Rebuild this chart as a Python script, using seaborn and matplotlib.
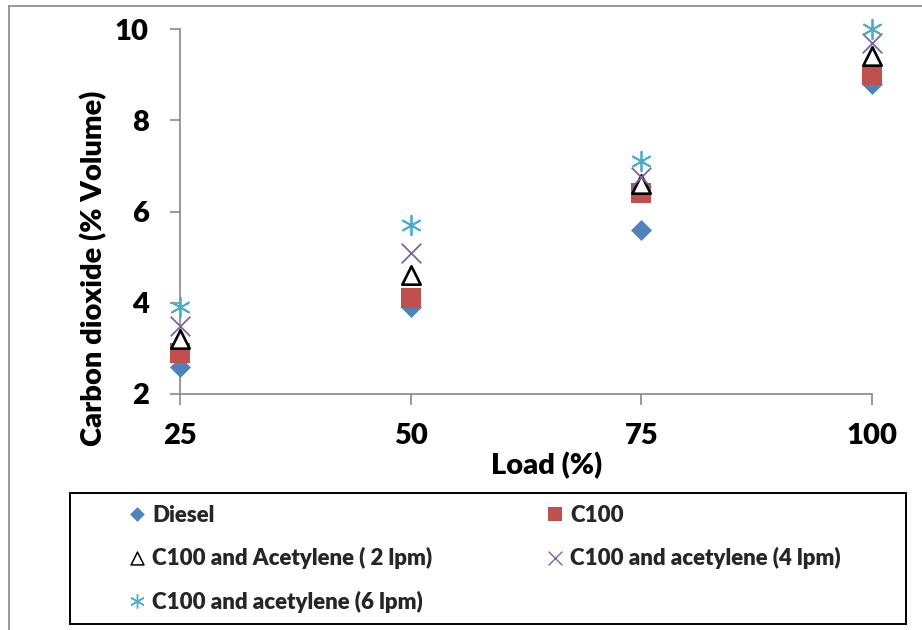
import matplotlib
matplotlib.use("Agg")
import matplotlib.pyplot as plt
from matplotlib.lines import Line2D
from matplotlib.patches import Rectangle
import seaborn as sns
import pandas as pd

# Engine load (%) and CO2 emission (% volume) for each fuel mode
load = [25, 50, 75, 100]
diesel = [2.6, 3.9, 5.6, 8.8]
c100 = [2.9, 4.1, 6.4, 9.0]
c100_ac2 = [3.2, 4.6, 6.6, 9.4]
c100_ac4 = [3.5, 5.1, 6.75, 9.7]
c100_ac6 = [3.9, 5.7, 7.1, 10.0]

series_names = [
    "Diesel",
    "C100",
    "C100 and Acetylene ( 2 lpm)",
    "C100 and acetylene (4 lpm)",
    "C100 and acetylene (6 lpm)",
]
series_values = [diesel, c100, c100_ac2, c100_ac4, c100_ac6]

x_ticks = [25, 50, 75, 100]
y_ticks = [2, 4, 6, 8, 10]

df = pd.DataFrame(
    [(n, x, v) for n, vals in zip(series_names, series_values) for x, v in zip(load, vals)],
    columns=["series", "load", "co2"],
)

sns.set_theme(style="white")
plt.rcParams["font.family"] = ["Lato", "DejaVu Sans"]
WEIGHT = "heavy"
plt.rcParams["font.weight"] = WEIGHT

W, H = 922, 630
fig = plt.figure(figsize=(W / 100, H / 100), dpi=100)
fig.patch.set_facecolor("white")

# plot area in pixel terms: left 180, right 872, top 29, bottom 394
ax = fig.add_axes([180 / W, 1 - 394 / H, (872 - 180) / W, (394 - 29) / H])

styles = {
    "Diesel": dict(marker="D", s=114, color="#4F81BD", linewidth=0),
    "C100": dict(marker="s", s=205, color="#C0504D", linewidth=0),
    "C100 and Acetylene ( 2 lpm)": dict(marker="^", s=175, color="white",
                                        edgecolor="black", linewidth=1.9),
    "C100 and acetylene (4 lpm)": dict(marker="x", s=200, color="#8064A2",
                                       edgecolor="#8064A2", linewidth=1.3),
    "C100 and acetylene (6 lpm)": dict(marker=(6, 2, 0), s=200, color="#4BACC6",
                                       edgecolor="#4BACC6", linewidth=1.3),
}

for i, name in enumerate(series_names):
    sub = df[df["series"] == name]
    sns.scatterplot(data=sub, x="load", y="co2", ax=ax, label=name,
                    clip_on=False, zorder=3 + i, legend=False, **styles[name])

ax.set_xlim(25, 100)
ax.set_ylim(2, 10)
ax.set_xticks(x_ticks)
ax.set_yticks(y_ticks)
ax.set_xticklabels([str(t) for t in x_ticks])
ax.set_yticklabels([str(t) for t in y_ticks])

spine_col = "#898989"
for side in ["top", "right"]:
    ax.spines[side].set_visible(False)
for side in ["left", "bottom"]:
    ax.spines[side].set_color(spine_col)
    ax.spines[side].set_linewidth(1.2)

ax.tick_params(axis="y", direction="out", length=7, width=1.2, color=spine_col,
               pad=15.5, labelsize=21, left=True)
ax.tick_params(axis="x", direction="out", length=8, width=1.2, color=spine_col,
               pad=13, labelsize=21, bottom=True)
for lab in ax.get_xticklabels() + ax.get_yticklabels():
    lab.set_fontweight(WEIGHT)
    lab.set_color("black")

ax.set_xlabel("Load (%)", fontsize=21, fontweight=WEIGHT, color="black")
ax.set_ylabel("Carbon dioxide (% Volume)", fontsize=21, fontweight=WEIGHT, color="black")
ax.xaxis.set_label_coords((547 - 180) / 692, (394 - 466) / 365)
ax.xaxis.label.set_va("center")
ax.yaxis.set_label_coords((94 - 180) / 692, (394 - 268) / 365)
ax.yaxis.label.set_va("center")
ax.yaxis.label.set_ha("center")

# legend frame and two columns of entries
fig.add_artist(Rectangle((70 / W, 1 - 624 / H), (906 - 70) / W, (624 - 493) / H,
                         transform=fig.transFigure, fill=False,
                         edgecolor="black", linewidth=1.4))

handles, labels = ax.get_legend_handles_labels()
hmap = dict(zip(labels, handles))

leg_kw = dict(frameon=False, fontsize=16, markerscale=0.7, handlelength=0.75,
              handletextpad=0.3, borderpad=0, borderaxespad=0, labelspacing=0.96,
              scatterpoints=1, scatteryoffsets=[0.5], loc="upper left",
              bbox_transform=fig.transFigure)
col1 = [series_names[0], series_names[2], series_names[4]]
col2 = [series_names[1], series_names[3]]
leg1 = fig.legend([hmap[n] for n in col1], col1,
                  bbox_to_anchor=(129 / W, 1 - 505 / H), **leg_kw)
leg2 = fig.legend([hmap[n] for n in col2], col2,
                  bbox_to_anchor=(547 / W, 1 - 505 / H), **leg_kw)
for leg in (leg1, leg2):
    for t in leg.get_texts():
        t.set_fontweight(WEIGHT)
    for h, t in zip(leg.legend_handles, leg.get_texts()):
        if t.get_text() == "C100 and Acetylene ( 2 lpm)":
            h.set_linewidth(1.1)
        elif "acetylene" in t.get_text():
            h.set_linewidth(1.0)

# outer chart border (left and top edges)
fig.add_artist(Line2D([8.5 / W, 8.5 / W], [0, 1 - 5.5 / H], transform=fig.transFigure,
                      color=spine_col, linewidth=1.2))
fig.add_artist(Line2D([8.5 / W, 1], [1 - 5.5 / H, 1 - 5.5 / H], transform=fig.transFigure,
                      color=spine_col, linewidth=1.2))

fig.savefig("out.png", dpi=100)
